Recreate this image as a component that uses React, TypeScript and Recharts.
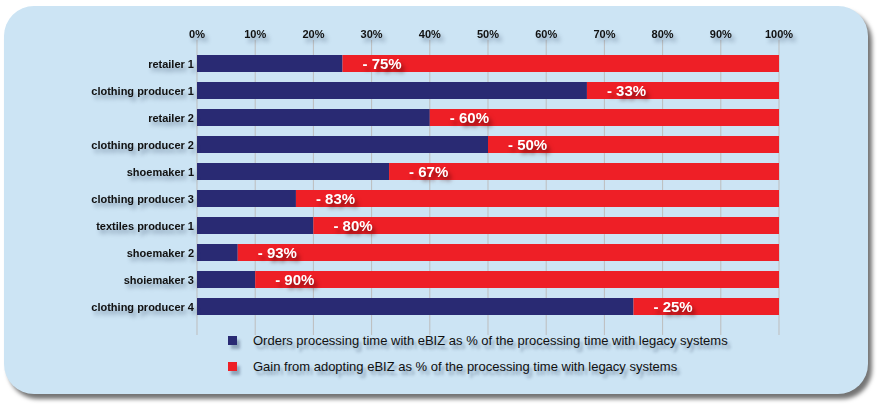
import { Bar, BarChart, CartesianGrid, LabelList, XAxis, YAxis } from "recharts";

const companies = [
  "retailer 1",
  "clothing producer 1",
  "retailer 2",
  "clothing producer 2",
  "shoemaker 1",
  "clothing producer 3",
  "textiles producer 1",
  "shoemaker 2",
  "shoiemaker 3",
  "clothing producer 4",
];
const withEbiz = [25, 67, 40, 50, 33, 17, 20, 7, 10, 75];
const gain = [75, 33, 60, 50, 67, 83, 80, 93, 90, 25];
const xTicks = [0, 10, 20, 30, 40, 50, 60, 70, 80, 90, 100];
const legendItems = [
  "Orders processing time with eBIZ as % of the processing time with legacy systems",
  "Gain from adopting eBIZ as % of the processing time with legacy systems",
];

const BLUE = "#292a73";
const RED = "#ee1f26";
const FONT = "'Liberation Sans', Arial, sans-serif";
const SHADOW = "drop-shadow(3px 4px 2px rgba(50,70,100,0.45))";

const data = companies.map((name, i) => ({ name, ebiz: withEbiz[i], gain: gain[i] }));

function TopTick({ x, y, payload }: any) {
  return (
    <text x={x} y={y} textAnchor="middle" fontFamily={FONT} fontSize={11} fontWeight="bold" fill="#111" style={{ filter: SHADOW }}>
      {payload.value}%
    </text>
  );
}

function LeftTick({ x, y, payload }: any) {
  return (
    <text x={x} y={y} dy={4} textAnchor="end" fontFamily={FONT} fontSize={11} fontWeight="bold" fill="#111" style={{ filter: SHADOW }}>
      {payload.value}
    </text>
  );
}

function GainLabel({ x, y, height, value }: any) {
  return (
    <text x={x + 20} y={y + height / 2 + 5} fontFamily={FONT} fontSize={15} fontWeight="bold" fill="#fff" style={{ filter: "drop-shadow(3px 4px 2px rgba(60,0,0,0.6))" }}>
      - {value}%
    </text>
  );
}

function LegendBox() {
  const colors = [BLUE, RED];
  return (
    <div style={{ position: "absolute", left: 228, top: 327, fontFamily: FONT, fontSize: 13, color: "#111" }}>
      {legendItems.map((text, i) => (
        <div key={text} style={{ display: "flex", alignItems: "center", height: 26 }}>
          <span style={{ width: 9, height: 9, background: colors[i], marginRight: 16, boxShadow: "3px 4px 3px rgba(50,70,100,0.4)" }} />
          <span style={{ textShadow: "3px 4px 3px rgba(50,70,100,0.45)" }}>{text}</span>
        </div>
      ))}
    </div>
  );
}

export default function App() {
  return (
    <div style={{ position: "absolute", left: 0, top: 0, width: 882, height: 409, background: "#fff" }}>
      <div
        style={{
          position: "absolute",
          left: 4,
          top: 6,
          width: 864,
          height: 388,
          background: "#cce4f4",
          borderRadius: 30,
          boxShadow: "4px 5px 4px rgba(0,0,0,0.55)",
        }}
      />
      <div style={{ position: "absolute", left: 0, top: 0 }}>
        <BarChart width={882} height={409} data={data} layout="vertical" margin={{ top: 10, right: 103, bottom: 74, left: 0 }}>
          <CartesianGrid horizontal={false} stroke="#bdbdbd" />
          <XAxis
            type="number"
            orientation="top"
            domain={[0, 100]}
            ticks={xTicks}
            height={30}
            axisLine={false}
            tickLine={false}
            tickSize={0}
            tickMargin={2}
            tick={<TopTick />}
          />
          <YAxis
            type="category"
            dataKey="name"
            width={197}
            axisLine={false}
            tickLine={false}
            tickSize={0}
            tickMargin={3}
            padding={{ top: 10, bottom: 15 }}
            tick={<LeftTick />}
            interval={0}
          />
          <Bar dataKey="ebiz" stackId="a" fill={BLUE} barSize={17} isAnimationActive={false} />
          <Bar dataKey="gain" stackId="a" fill={RED} barSize={17} isAnimationActive={false}>
            <LabelList dataKey="gain" content={<GainLabel />} />
          </Bar>
        </BarChart>
      </div>
      <LegendBox />
    </div>
  );
}
